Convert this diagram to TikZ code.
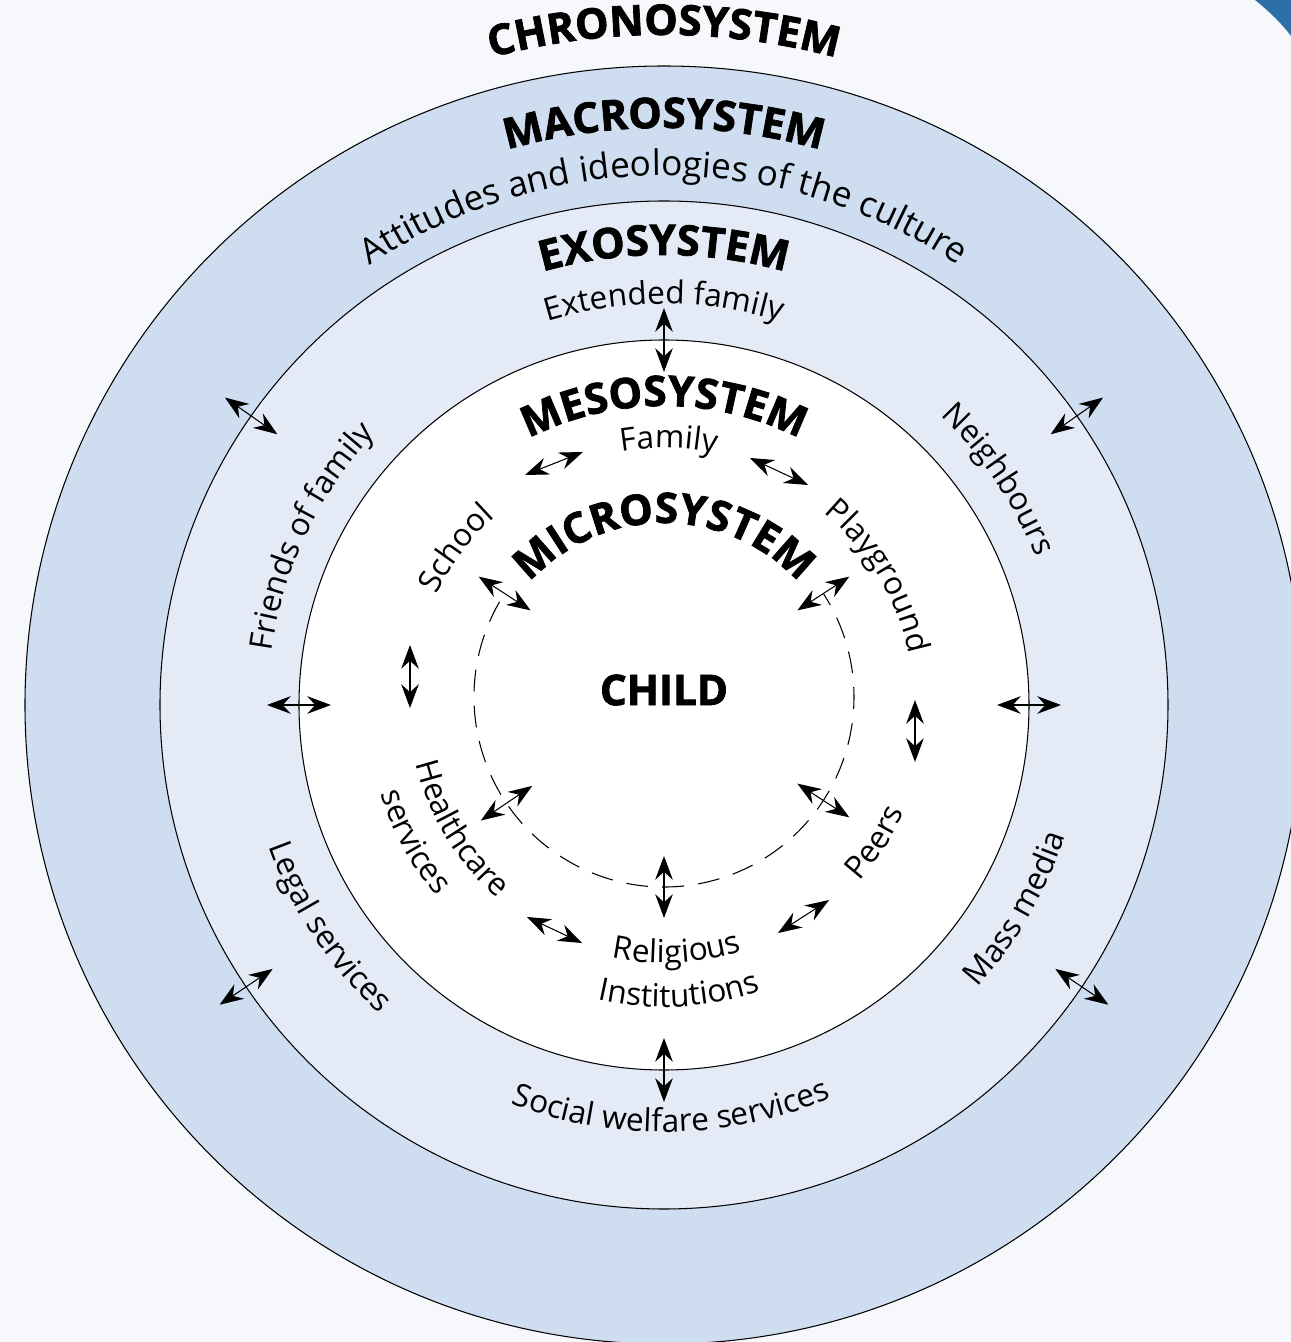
\documentclass[tikz,border=0pt]{standalone}
\usepackage{fontspec}
\setmainfont{Open Sans}
\newfontfamily\ringheadfamily{Open Sans}
\usetikzlibrary{arrows.meta}
\usetikzlibrary{decorations.text}

\definecolor{pagebg}{RGB}{246,248,252}
\definecolor{macrofill}{RGB}{207,221,240}
\definecolor{exofill}{RGB}{228,235,246}
\definecolor{cornerblue}{RGB}{46,111,168}

\newcommand{\ringhead}{\fontsize{24}{28}\selectfont\ringheadfamily\bfseries\addfontfeature{FakeBold=1.8}}
\newcommand{\ringlabel}{\fontsize{18}{22}\selectfont}
\newcommand{\ringwide}{\fontsize{20}{24}\selectfont}

\begin{document}
\begin{tikzpicture}[x=0.02cm, y=0.02cm,
    ring/.style={draw=black, line width=0.6pt},
    twoway/.style={{Stealth[length=13.5pt,width=10pt,inset=4.5pt]}-{Stealth[length=13.5pt,width=10pt,inset=4.5pt]}, line width=0.6pt},
    ringtext/.style={decorate, decoration={text along path, text align=center, text={#1}}}]
  \clip (-664,-637) rectangle (627,705);
  \fill[pagebg] (-664,-637) rectangle (627,705);
  \fill[cornerblue] (591,705) .. controls (606,693) and (618,681) .. (627,669) -- (627,705) -- cycle;

  \filldraw[ring, fill=macrofill] (0,0) circle[radius=639];
  \filldraw[ring, fill=exofill] (0,0) circle[radius=504];
  \filldraw[ring, fill=white] (0,0) circle[radius=365];
  \draw[line width=0.6pt, dash pattern=on 12.5pt off 8pt] (0,8) ++(150:190) arc[start angle=150, end angle=393, radius=190];

  \node[font=\ringhead] (child) at (0,15) {CHILD};

  \foreach \ang/\name in {90/top,0/right,180/left,270/bottom} {
    \coordinate (meso-\name-a) at (\ang:333);
    \coordinate (meso-\name-b) at (\ang:397);
    \draw[twoway] (meso-\name-a) -- (meso-\name-b);
  }
  \foreach \ang/\name in {145/nw,35/ne,214/sw,326/se} {
    \coordinate (exo-\name-a) at (\ang:472);
    \coordinate (exo-\name-b) at (\ang:536);
    \draw[twoway] (exo-\name-a) -- (exo-\name-b);
  }
  \foreach \ang/\name in {147/school,33/play,214/health,327/peers,270/relig} {
    \coordinate (micro-\name-a) at ([shift={(0,8)}]\ang:159);
    \coordinate (micro-\name-b) at ([shift={(0,8)}]\ang:221);
    \draw[twoway] (micro-\name-a) -- (micro-\name-b);
  }

  \coordinate (school-fam-a) at (-139,230);
  \coordinate (school-fam-b) at (-81,253);
  \coordinate (fam-play-a) at (86,247);
  \coordinate (fam-play-b) at (144,220);
  \coordinate (school-health-a) at (-254,60);
  \coordinate (school-health-b) at (-254,-3);
  \coordinate (play-peers-a) at (251,5);
  \coordinate (play-peers-b) at (251,-57);
  \coordinate (health-relig-a) at (-137,-212);
  \coordinate (health-relig-b) at (-82,-238);
  \coordinate (peers-relig-a) at (114,-228);
  \coordinate (peers-relig-b) at (165,-195);
  \draw[twoway] (school-fam-a) -- (school-fam-b);
  \draw[twoway] (fam-play-a) -- (fam-play-b);
  \draw[twoway] (school-health-a) -- (school-health-b);
  \draw[twoway] (play-peers-a) -- (play-peers-b);
  \draw[twoway] (health-relig-a) -- (health-relig-b);
  \draw[twoway] (peers-relig-a) -- (peers-relig-b);

  \path[ringtext={|\ringhead|CHRONOSYSTEM}] (170:670) arc[start angle=170, end angle=10, radius=670];
  \path[ringtext={|\ringhead|MACROSYSTEM}] (170:577) arc[start angle=170, end angle=10, radius=577];
  \path[ringtext={|\ringwide|Attitudes and ideologies of the culture}] (170:529) arc[start angle=170, end angle=10, radius=529];
  \path[ringtext={|\ringhead|EXOSYSTEM}] (170:450) arc[start angle=170, end angle=10, radius=450];
  \path[ringtext={|\ringlabel|Extended family}] (170:401) arc[start angle=170, end angle=10, radius=401];
  \path[ringtext={|\ringhead|MESOSYSTEM}] (170:299) arc[start angle=170, end angle=10, radius=299];
  \path[ringtext={|\ringlabel|Family}] (179:257) arc[start angle=179, end angle=-1, radius=257];
  \path[ringtext={|\ringhead|MICROSYSTEM}] (180:182) arc[start angle=180, end angle=0, radius=182];

  \path[ringtext={|\ringlabel|School}] (233:253) arc[start angle=233, end angle=53, radius=253];
  \path[ringtext={|\ringlabel|Playground}] (121:250) arc[start angle=121, end angle=-59, radius=250];
  \path[ringtext={|\ringlabel|Peers}] (-123:263) arc[start angle=-123, end angle=57, radius=263];
  \path[ringtext={|\ringlabel|Healthcare}] (121.3:255) arc[start angle=121.3, end angle=301.3, radius=255];
  \path[ringtext={|\ringlabel|services}] (118.7:297) arc[start angle=118.7, end angle=298.7, radius=297];
  \path[ringtext={|\ringlabel|Religious}] (183:258) arc[start angle=183, end angle=363, radius=258];
  \path[ringtext={|\ringlabel|Institutions}] (183:302) arc[start angle=183, end angle=363, radius=302];

  \path[ringtext={|\ringlabel|Friends of family}] (244.5:396) arc[start angle=244.5, end angle=64.5, radius=396];
  \path[ringtext={|\ringlabel|Neighbours}] (124:400) arc[start angle=124, end angle=-56, radius=400];
  \path[ringtext={|\ringlabel|Legal services}] (123.5:420) arc[start angle=123.5, end angle=303.5, radius=420];
  \path[ringtext={|\ringlabel|Mass media}] (-120:422) arc[start angle=-120, end angle=60, radius=422];
  \path[ringtext={|\ringlabel|Social welfare services}] (181:427) arc[start angle=181, end angle=361, radius=427];
\end{tikzpicture}
\end{document}
